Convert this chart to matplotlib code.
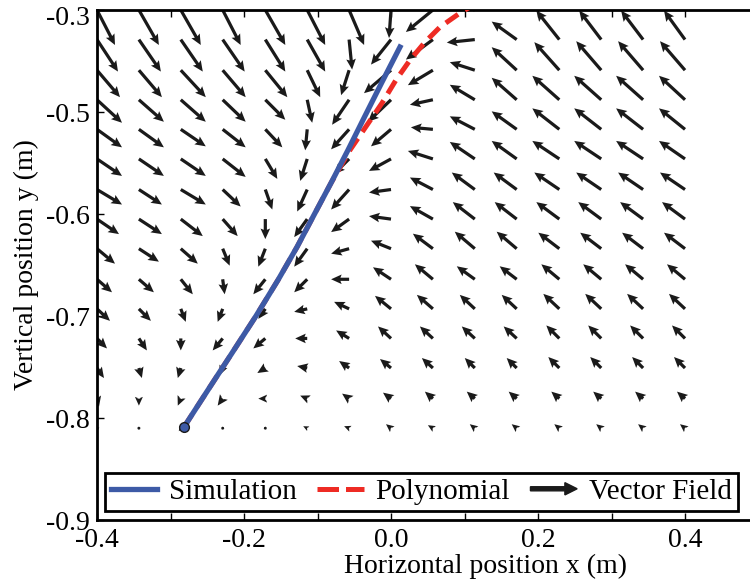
import matplotlib
matplotlib.use("Agg")
import matplotlib.pyplot as plt
import matplotlib.patches as mpatches
from matplotlib.lines import Line2D
from matplotlib.legend_handler import HandlerPatch
import numpy as np

plt.rcParams['font.family'] = 'Liberation Serif'
plt.rcParams['font.size'] = 20

# grid of the vector field
grid_x = [-0.4, -0.343, -0.286, -0.229, -0.171, -0.114, -0.057, 0.0,
          0.057, 0.114, 0.171, 0.229, 0.286, 0.343, 0.4]
grid_y = [-0.4, -0.429, -0.459, -0.488, -0.517, -0.546, -0.576, -0.605,
          -0.634, -0.664, -0.693, -0.722, -0.751, -0.781, -0.81]

# field components per row (top row first)
field_u = [
    [18, 20, 20, 18, 20, 18, 15, -2, -27, -28, -25, -22, -22, -22, -21],
    [21, 22, 22, 22, 20, 18, 3, -20, -27, -28, -25, -23, -22, -22, -21],
    [23, 23, 25, 23, 22, 13, -8, -27, -25, -25, -25, -25, -25, -25, -25],
    [25, 25, 25, 23, 20, 5, -17, -23, -23, -25, -25, -27, -27, -27, -26],
    [25, 25, 25, 23, 17, -2, -18, -20, -22, -25, -25, -27, -27, -27, -26],
    [25, 25, 25, 23, 12, -7, -15, -22, -25, -25, -25, -27, -27, -27, -26],
    [25, 23, 25, 18, 7, -10, -18, -22, -23, -23, -23, -25, -25, -25, -25],
    [22, 23, 22, 15, 0, -13, -18, -22, -23, -22, -22, -23, -23, -23, -23],
    [18, 20, 17, 7, -7, -13, -18, -20, -20, -20, -20, -21, -21, -21, -21],
    [15, 15, 12, 2, -12, -13, -18, -18, -18, -18, -17, -18, -18, -18, -18],
    [13, 12, 5, -5, -7, -13, -15, -16, -16, -15, -15, -16, -16, -16, -16],
    [10, 8, 0, -10, -12, -12, -13, -13, -13, -13, -13, -13, -13, -13, -13],
    [7, 3, -3, -3, -8, -10, -10, -11, -11, -10, -10, -11, -11, -11, -11],
    [2, 0, -3, -5, -7, -7, -7, -8, -8, -8, -8, -8, -8, -8, -8],
    [0, 0, -2, -2, -3, -4, -5, -5, -5, -5, -5, -5, -5, -5, -5],
]
field_v = [
    [-35, -35, -35, -35, -35, -35, -35, -28, -22, 10, 20, 29, 29, 29, 29],
    [-32, -32, -32, -32, -32, -32, -30, -25, -20, -3, 18, 29, 29, 29, 29],
    [-27, -27, -27, -27, -27, -27, -25, -23, -15, 8, 23, 28, 29, 29, 29],
    [-23, -22, -22, -22, -20, -23, -25, -22, -5, 15, 22, 24, 24, 24, 24],
    [-18, -18, -17, -18, -18, -21, -20, -17, 2, 13, 18, 21, 21, 21, 21],
    [-17, -17, -17, -18, -20, -22, -15, -12, 8, 17, 18, 18, 18, 18, 18],
    [-15, -15, -15, -17, -20, -22, -20, -3, 12, 17, 17, 17, 17, 17, 17],
    [-15, -15, -17, -17, -20, -18, -13, 3, 13, 17, 17, 17, 17, 17, 17],
    [-15, -13, -15, -17, -18, -18, -5, 8, 15, 17, 17, 16, 16, 16, 16],
    [-13, -13, -15, -15, -15, -13, 0, 12, 15, 13, 13, 15, 15, 15, 15],
    [-12, -12, -13, -13, -10, -3, 7, 13, 14, 14, 14, 15, 15, 15, 15],
    [-10, -12, -12, -12, -10, 0, 8, 12, 12, 12, 12, 13, 13, 13, 13],
    [-10, -10, -10, -7, -5, 2, 7, 9, 10, 10, 10, 11, 11, 11, 11],
    [-8, -7, -7, -7, 0, 3, 5, 6, 7, 7, 7, 7, 7, 7, 7],
    [-4, -3, -3, -2, -1, 2, 2, 4, 3, 4, 4, 4, 4, 4, 4],
]

# trajectories
sim_x = [-0.2816, -0.249, -0.2163, -0.1837, -0.1537, -0.1279, -0.1048,
         -0.0816, -0.0585, -0.0354, -0.0122, 0.0122]
sim_y = [-0.8088, -0.7725, -0.7363, -0.7, -0.6647, -0.6324, -0.601,
         -0.5696, -0.5373, -0.5039, -0.4706, -0.4363]
poly_x = [-0.2816, -0.249, -0.2163, -0.1837, -0.1537, -0.1279, -0.1048,
          -0.0816, -0.0558, -0.0354, -0.0122, 0.0068, 0.0259, 0.0463,
          0.0667, 0.0939, 0.1075]
poly_y = [-0.8088, -0.7725, -0.7363, -0.7, -0.6647, -0.6324, -0.601,
          -0.5696, -0.5373, -0.5157, -0.4912, -0.4686, -0.449, -0.4314,
          -0.4167, -0.4029, -0.3971]

blau = '#3d5aa6'
rot = '#ee2b24'
schwarz = '#1a1a1a'

fig = plt.figure(figsize=(7.5, 5.8), dpi=100)
ax = fig.add_axes([97 / 750, 60 / 580, 661.5 / 750, 510 / 580])

X, Y = np.meshgrid(grid_x, grid_y)
ax.quiver(X, Y, np.array(field_u), np.array(field_v), angles='uv',
          scale_units='dots', scale=1, units='dots', width=3.2,
          headwidth=3.0, headlength=3.3, headaxislength=2.9, minshaft=0.8,
          color=schwarz, pivot='tail', zorder=2)

ax.plot(poly_x, poly_y, color=rot, lw=3.6, dashes=(3, 1.6), zorder=3)
ax.plot(sim_x, sim_y, color=blau, lw=3.8, zorder=4)
ax.plot(sim_x[0], sim_y[0], 'o', ms=7, mfc=blau, mec=schwarz, mew=1, zorder=5)

ax.set_xlim(-0.4, 0.5)
ax.set_ylim(-0.9, -0.4)
ax.set_xticks([-0.4, -0.3, -0.2, -0.1, 0.0, 0.1, 0.2, 0.3, 0.4])
ax.set_xticklabels(['-0.4', '', '-0.2', '', '0.0', '', '0.2', '', '0.4'])
ax.set_yticks([-0.9, -0.8, -0.7, -0.6, -0.5, -0.4])
ax.set_yticklabels(['-0.9', '-0.8', '-0.7', '-0.6', '-0.5', ''])
ax.annotate('-0.3', xy=(0, -0.4), xycoords=('axes fraction', 'data'),
            xytext=(-5, -6), textcoords='offset points', ha='right', va='center')
ax.tick_params(direction='in', length=5, width=1, top=True, right=True)
ax.tick_params(axis='x', pad=6)
ax.tick_params(axis='y', pad=5)
for s in ax.spines.values():
    s.set_linewidth(2)

ax.set_xlabel('Horizontal position x (m)')
ax.set_ylabel('Vertical position y (m)')
ax.xaxis.set_label_coords(0.588, -0.066)
ax.yaxis.set_label_coords(-0.088, 0.5)


# Pfeil als Legendensymbol
def pfeil(legend, orig_handle, xdescent, ydescent, width, height, fontsize):
    return mpatches.FancyArrow(-xdescent, height / 2 - ydescent, width, 0,
                               width=height * 0.2, head_width=height * 0.6,
                               head_length=height * 0.6, length_includes_head=True)


griffe = [Line2D([], [], color=blau, lw=3.8),
          Line2D([], [], color=rot, lw=3.6, dashes=(4.3, 1.4)),
          mpatches.FancyArrow(0, 0, 1, 0, color=schwarz)]
leg = ax.legend(griffe, ['Simulation', 'Polynomial', 'Vector Field'],
                loc='lower center', bbox_to_anchor=(0.49, 0.018), ncol=3,
                fancybox=False, edgecolor='black', framealpha=1, fontsize=21,
                handlelength=1.6, handletextpad=0.4, columnspacing=0.7,
                borderpad=0.2, borderaxespad=0,
                handler_map={mpatches.FancyArrow: HandlerPatch(patch_func=pfeil)})
leg.get_frame().set_linewidth(2)

fig.savefig('out.png', dpi=100)
